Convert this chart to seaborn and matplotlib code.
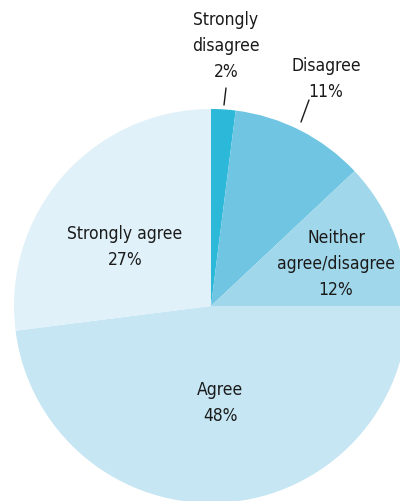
import matplotlib
matplotlib.use('Agg')
import matplotlib.pyplot as plt
import seaborn as sns

# data
categories = ['Strongly\ndisagree', 'Disagree', 'Neither\nagree/disagree', 'Agree', 'Strongly agree']
shares = [2, 11, 12, 48, 27]
colors = ['#2bb8d9', '#70c6e2', '#a1d7ea', '#c6e6f3', '#e0f1f9']

sns.set_theme(style='white')
plt.rcParams['font.family'] = ['DejaVu Sans']
plt.rcParams['font.stretch'] = 'condensed'

fig = plt.figure(figsize=(4, 5.01), dpi=100)
ax = fig.add_axes([0, 0, 1, 1])

# pie in pixel-like units (y measured from the bottom)
cx, cy, r = 211, 195, 197
palette = sns.color_palette(colors)
wedges, _ = ax.pie(shares, colors=palette, startangle=90, counterclock=False,
                   center=(cx, cy), radius=r, frame=True,
                   wedgeprops=dict(linewidth=0))

# label positions (x, y from top) and optional leader lines
label_pos = [(226, 46), (326, 79), (336, 264), (220, 403), (125, 247)]
leaders = {0: ((226, 88), (224, 105)), 1: ((309, 100), (301, 122))}

for i, (cat, val) in enumerate(zip(categories, shares)):
    x, y = label_pos[i]
    ax.text(x, 501 - y, f'{cat}\n{val}%', ha='center', va='center',
            fontsize=12.5, fontstretch='condensed', color='#1a1a1a', linespacing=1.6)
    if i in leaders:
        (x1, y1), (x2, y2) = leaders[i]
        ax.plot([x1, x2], [501 - y1, 501 - y2], color='#1a1a1a', lw=1)

ax.set_xlim(0, 400)
ax.set_ylim(0, 501)
ax.set_aspect('equal')
ax.axis('off')

fig.savefig('out.png', dpi=100)
